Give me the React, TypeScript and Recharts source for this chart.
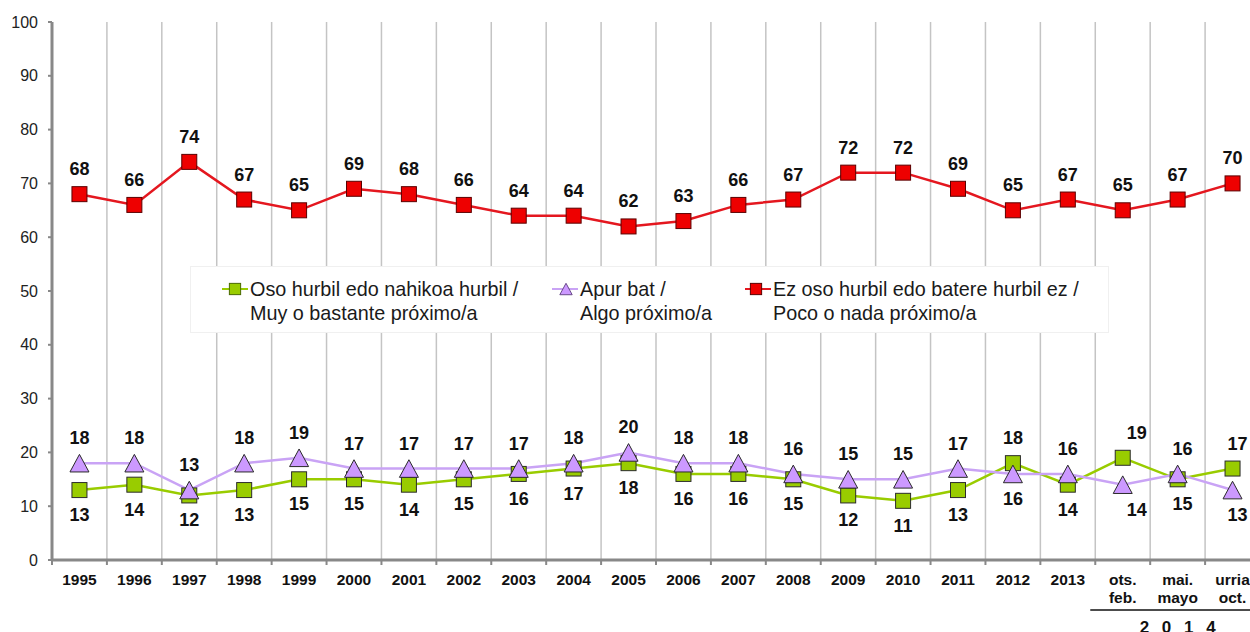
import { LineChart, Line, XAxis, YAxis, CartesianGrid, Legend } from 'recharts';

const categories = [
  '1995', '1996', '1997', '1998', '1999', '2000', '2001', '2002', '2003', '2004', '2005',
  '2006', '2007', '2008', '2009', '2010', '2011', '2012', '2013',
  'ots.\nfeb.', 'mai.\nmayo', 'urria\noct.',
];
// Oso hurbil edo nahikoa hurbil / Muy o bastante próximo/a
const closeValues = [13, 14, 12, 13, 15, 15, 14, 15, 16, 17, 18, 16, 16, 15, 12, 11, 13, 18, 14, 19, 15, 17];
// Apur bat / Algo próximo/a
const someValues = [18, 18, 13, 18, 19, 17, 17, 17, 17, 18, 20, 18, 18, 16, 15, 15, 17, 16, 16, 14, 16, 13];
// Ez oso hurbil edo batere hurbil ez / Poco o nada próximo/a
const farValues = [68, 66, 74, 67, 65, 69, 68, 66, 64, 64, 62, 63, 66, 67, 72, 72, 69, 65, 67, 65, 67, 70];
const yTicks = [0, 10, 20, 30, 40, 50, 60, 70, 80, 90, 100];
const groupLabel = '2 0 1 4';
const groupStart = 19; // first of the 2014 waves

const legendNames = [
  ['Oso hurbil edo nahikoa hurbil /', 'Muy o bastante próximo/a'],
  ['Apur bat /', 'Algo próximo/a'],
  ['Ez oso hurbil edo batere hurbil ez /', 'Poco o nada próximo/a'],
];

const data = categories.map((cat, i) => ({
  cat,
  close: closeValues[i],
  some: someValues[i],
  far: farValues[i],
}));

const FONT = '"Liberation Sans", Arial, sans-serif';
const WIDTH = 1262;
const HEIGHT = 632;
const Y_WIDTH = 52;
const MARGIN = { top: 22, right: 2, left: 0, bottom: 0 };
const BAND = (WIDTH - MARGIN.left - MARGIN.right - Y_WIDTH) / categories.length;

const GREEN = '#99cc00';
const PURPLE = '#cc99ff';
const PURPLE_LINE = '#c9a3f5';
const RED = '#ee0000';
const RED_LINE = '#e4171f';

function Marker({ kind, cx, cy, fill, stroke, s = 1 }: any) {
  if (kind === 'triangle') {
    const w = 9.5 * s;
    const h = 8.8 * s;
    return (
      <polygon
        points={`${cx},${cy - h} ${cx + w},${cy + h} ${cx - w},${cy + h}`}
        fill={fill}
        stroke={stroke}
        strokeWidth={1}
      />
    );
  }
  const r = 7.5 * s;
  return <rect x={cx - r} y={cy - r} width={2 * r} height={2 * r} fill={fill} stroke={stroke} strokeWidth={1} />;
}

const makeDot = (kind: string, fill: string, stroke: string, isAbove: (i: number) => boolean, shift: boolean) =>
  (props: any) => {
    const { cx, cy, index, value } = props;
    if (cx == null || cy == null) return <g key={`d-${index}`} />;
    const above = isAbove(index);
    const dx = !shift ? 0 : index === groupStart ? 14 : index > groupStart ? 5 : 0;
    return (
      <g key={`d-${kind}-${fill}-${index}`}>
        <Marker kind={kind} cx={cx} cy={cy} fill={fill} stroke={stroke} />
        <text
          x={cx + dx}
          y={above ? cy - 19 : cy + 31}
          textAnchor="middle"
          fontFamily={FONT}
          fontWeight="bold"
          fontSize={18}
          fill="#111"
        >
          {value}
        </text>
      </g>
    );
  };

const greenDot = makeDot('square', GREEN, '#2b2b2b', (i) => closeValues[i] > someValues[i], true);
const purpleDot = makeDot('triangle', PURPLE, '#2b2b2b', (i) => someValues[i] > closeValues[i], true);
const redDot = makeDot('square', RED, '#5a0000', () => true, false);

function XTick(props: any) {
  const { x, y, payload, index } = props;
  const lines = String(payload.value).split('\n');
  return (
    <g>
      {index === 0 && <line x1={x - BAND / 2} x2={x - BAND / 2} y1={y} y2={y + 5} stroke="#888" strokeWidth={2} />}
      <line x1={x + BAND / 2} x2={x + BAND / 2} y1={y} y2={y + 5} stroke="#888" strokeWidth={2} />
      <text x={x} y={y + 25} textAnchor="middle" fontFamily={FONT} fontWeight="bold" fontSize={15.5} fill="#111">
        {lines.map((l, i) => (
          <tspan key={i} x={x} dy={i === 0 ? 0 : 18}>
            {l}
          </tspan>
        ))}
      </text>
      {index === groupStart && (
        <g>
          <line x1={x - BAND / 2 - 5} x2={x + 2.5 * BAND} y1={y + 50} y2={y + 50} stroke="#111" strokeWidth={1.5} />
          <text
            x={x + BAND + 2}
            y={y + 73}
            textAnchor="middle"
            fontFamily={FONT}
            fontWeight="bold"
            fontSize={17}
            letterSpacing={4}
            fill="#111"
          >
            {groupLabel}
          </text>
        </g>
      )}
    </g>
  );
}

function LegendEntry({ left, marker, lines }: any) {
  return (
    <div style={{ position: 'absolute', left, top: 10, display: 'flex', alignItems: 'flex-start' }}>
      <svg width={28} height={24} style={{ flex: 'none' }}>{marker}</svg>
      <div style={{ fontFamily: FONT, fontSize: 19.8, lineHeight: '24px', color: '#1a1a1a', whiteSpace: 'nowrap' }}>
        {lines.map((l: string, i: number) => (
          <div key={i}>{l}</div>
        ))}
      </div>
    </div>
  );
}

function LegendBox() {
  return (
    <div
      style={{
        position: 'relative',
        width: 919,
        height: 67,
        background: '#fff',
        border: '1px solid #f0f0f0',
        boxSizing: 'border-box',
      }}
    >
      <LegendEntry
        left={31}
        lines={legendNames[0]}
        marker={
          <g>
            <line x1={0} x2={26} y1={12} y2={12} stroke={GREEN} strokeWidth={2} />
            <Marker kind="square" cx={13} cy={12} fill={GREEN} stroke="#4a6a00" s={0.75} />
          </g>
        }
      />
      <LegendEntry
        left={361}
        lines={legendNames[1]}
        marker={
          <g>
            <line x1={0} x2={26} y1={12} y2={12} stroke={PURPLE_LINE} strokeWidth={2} />
            <Marker kind="triangle" cx={14} cy={12} fill={PURPLE} stroke="#6a4a8a" s={0.65} />
          </g>
        }
      />
      <LegendEntry
        left={554}
        lines={legendNames[2]}
        marker={
          <g>
            <line x1={0} x2={26} y1={12} y2={12} stroke={RED_LINE} strokeWidth={2} />
            <Marker kind="square" cx={11} cy={12} fill={RED} stroke="#5a0000" s={0.75} />
          </g>
        }
      />
    </div>
  );
}

export default function App() {
  return (
    <div
      style={{
        position: 'absolute',
        left: 0,
        top: 0,
        width: 1250,
        height: 632,
        overflow: 'hidden',
        background: '#fff',
      }}
    >
      <LineChart width={WIDTH} height={HEIGHT} data={data} margin={MARGIN}>
        <CartesianGrid
          horizontal={false}
          stroke="#c4c4c4"
          strokeWidth={1.5}
          verticalCoordinatesGenerator={({ offset }: any) =>
            categories.map((_, i) => offset.left + (i + 1) * (offset.width / categories.length))
          }
        />
        <XAxis
          dataKey="cat"
          interval={0}
          height={72}
          padding={{ left: BAND / 2, right: BAND / 2 }}
          tickLine={false}
          tickSize={0}
          tickMargin={0}
          axisLine={{ stroke: '#888', strokeWidth: 3 }}
          tick={<XTick />}
        />
        <YAxis
          domain={[0, 100]}
          ticks={yTicks}
          interval={0}
          width={Y_WIDTH}
          tickSize={4}
          tickMargin={10}
          axisLine={{ stroke: '#888', strokeWidth: 3 }}
          tickLine={{ stroke: '#888', strokeWidth: 2 }}
          tick={{ fill: '#222', fontSize: 16, fontFamily: FONT }}
        />
        <Legend
          verticalAlign="middle"
          align="center"
          layout="horizontal"
          wrapperStyle={{ left: 190, top: 266, width: 919, height: 67 }}
          content={() => <LegendBox />}
        />
        <Line
          type="linear"
          dataKey="close"
          stroke={GREEN}
          strokeWidth={2.5}
          dot={greenDot}
          activeDot={false}
          isAnimationActive={false}
        />
        <Line
          type="linear"
          dataKey="some"
          stroke={PURPLE_LINE}
          strokeWidth={2.5}
          dot={purpleDot}
          activeDot={false}
          isAnimationActive={false}
        />
        <Line
          type="linear"
          dataKey="far"
          stroke={RED_LINE}
          strokeWidth={2.5}
          dot={redDot}
          activeDot={false}
          isAnimationActive={false}
        />
      </LineChart>
    </div>
  );
}
